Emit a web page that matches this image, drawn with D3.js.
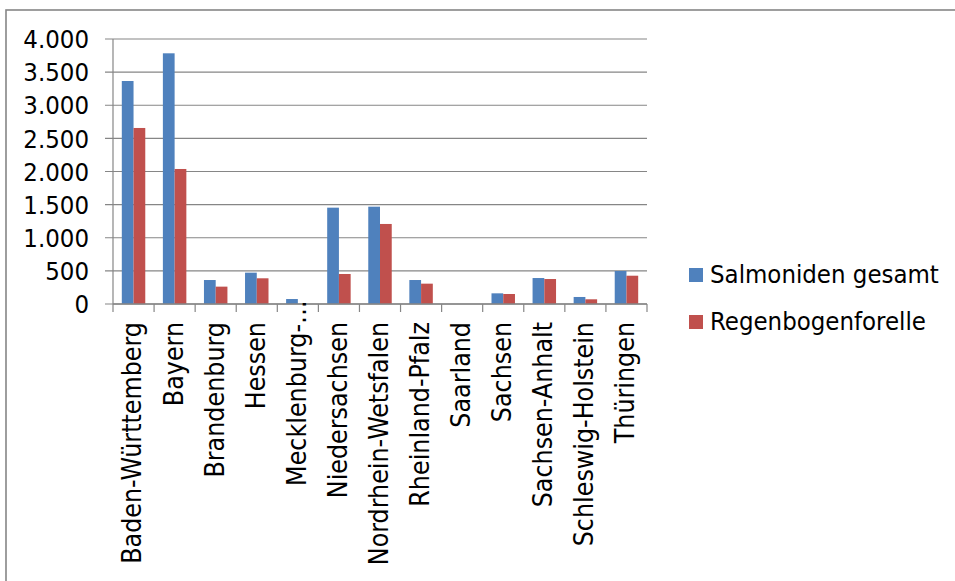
<!DOCTYPE html>
<html>
<head>
<meta charset="utf-8">
<script src="https://cdn.jsdelivr.net/npm/d3@7"></script>
<style>
  html, body { margin: 0; padding: 0; background: #fff; }
  svg text {
    font-family: "DejaVu Sans Condensed", "DejaVu Sans", sans-serif;
    font-stretch: condensed;
    fill: #000;
  }
</style>
</head>
<body>
<div id="chart"></div>
<script>
const states = [
  "Baden-Württemberg", "Bayern", "Brandenburg", "Hessen", "Mecklenburg-…",
  "Niedersachsen", "Nordrhein-Wetsfalen", "Rheinland-Pfalz", "Saarland",
  "Sachsen", "Sachsen-Anhalt", "Schleswig-Holstein", "Thüringen"
];
const seriesNames = ["Salmoniden gesamt", "Regenbogenforelle"];
const salmoniden = [3366, 3784, 362, 473, 75, 1454, 1469, 362, 0, 161, 392, 106, 498];
const regenbogen = [2657, 2038, 262, 388, 0, 453, 1208, 307, 0, 151, 377, 71, 427];
const yTicks = [0, 500, 1000, 1500, 2000, 2500, 3000, 3500, 4000];
const colors = ["#4F81BD", "#C0504D"];

const W = 955, H = 581;
const plot = { left: 113, right: 647, top: 39, bottom: 304 };
const gridColor = "#868686";
const fontSize = 25.5;
const xFontSize = 26.5;

const svg = d3.select("#chart").append("svg")
  .attr("width", W)
  .attr("height", H);

// chart area border (only top and left edges fall inside the picture)
svg.append("rect")
  .attr("x", 6)
  .attr("y", 10)
  .attr("width", W + 20)
  .attr("height", H + 20)
  .attr("fill", "none")
  .attr("stroke", gridColor)
  .attr("stroke-width", 1.6);

const x = d3.scaleBand()
  .domain(states)
  .range([plot.left, plot.right]);

// gap width 150% -> outer padding 0.75 of a bar on each side
const x1 = d3.scaleBand()
  .domain(seriesNames)
  .range([0, x.bandwidth()])
  .paddingOuter(0.75);

const y = d3.scaleLinear()
  .domain([0, 4000])
  .range([plot.bottom, plot.top]);

const de = d3.formatLocale({ decimal: ",", thousands: ".", grouping: [3], currency: ["", " €"] });
const fmt = de.format(",d");

// =========================
// GRID + Y AXIS
// =========================

svg.append("g")
  .selectAll("line")
  .data(yTicks)
  .join("line")
  .attr("x1", plot.left - 8)
  .attr("x2", plot.right)
  .attr("y1", d => y(d))
  .attr("y2", d => y(d))
  .attr("stroke", gridColor)
  .attr("stroke-width", 1.2);

svg.append("line")
  .attr("x1", plot.left)
  .attr("x2", plot.left)
  .attr("y1", y(4000))
  .attr("y2", y(0))
  .attr("stroke", gridColor)
  .attr("stroke-width", 1.2);

svg.append("g")
  .selectAll("text")
  .data(yTicks)
  .join("text")
  .attr("x", plot.left - 24)
  .attr("y", d => y(d))
  .attr("dy", "0.36em")
  .attr("text-anchor", "end")
  .style("font-size", fontSize + "px")
  .text(d => fmt(d));

// =========================
// BARS
// =========================

const rows = states.map((s, i) => ({ state: s, values: [salmoniden[i], regenbogen[i]] }));

const groups = svg.append("g")
  .selectAll("g")
  .data(rows)
  .join("g")
  .attr("transform", d => `translate(${x(d.state)},0)`);

groups.selectAll("rect")
  .data(d => d.values.map((v, k) => ({ key: seriesNames[k], value: v, k })))
  .join("rect")
  .attr("x", d => x1(d.key))
  .attr("width", x1.bandwidth())
  .attr("y", d => y(d.value))
  .attr("height", d => y(0) - y(d.value))
  .attr("fill", d => colors[d.k]);

// =========================
// X AXIS
// =========================

svg.append("line")
  .attr("x1", plot.left)
  .attr("x2", plot.right)
  .attr("y1", y(0))
  .attr("y2", y(0))
  .attr("stroke", gridColor)
  .attr("stroke-width", 1.4);

// Excel style ticks between the categories
const tickPos = d3.range(states.length + 1).map(i => plot.left + i * x.step());
svg.append("g")
  .selectAll("line")
  .data(tickPos)
  .join("line")
  .attr("x1", d => d)
  .attr("x2", d => d)
  .attr("y1", y(0))
  .attr("y2", y(0) + 8)
  .attr("stroke", gridColor)
  .attr("stroke-width", 1.2);

const labelTop = y(0) + 18;
const xLabels = svg.append("g")
  .selectAll("text")
  .data(states)
  .join("text")
  .attr("transform", d => `translate(${x(d) + x.bandwidth() / 2},${labelTop}) rotate(-90)`)
  .attr("dy", "0.3em")
  .attr("text-anchor", "end")
  .style("font-size", xFontSize + "px")
  .text(d => d);

// truncated label: the ellipsis overflows past the others
xLabels.filter(d => d.endsWith("…"))
  .attr("dx", function (d) {
    return this.getSubStringLength(d.length - 1, 1) - 2;
  });

// =========================
// LEGEND
// =========================

const legend = svg.append("g")
  .selectAll("g")
  .data(seriesNames)
  .join("g")
  .attr("transform", (d, i) => `translate(689,${268 + i * 47})`);

legend.append("rect")
  .attr("width", 14)
  .attr("height", 14)
  .attr("fill", (d, i) => colors[i]);

legend.append("text")
  .attr("x", 21)
  .attr("y", 15)
  .style("font-size", fontSize + "px")
  .text(d => d);
</script>
</body>
</html>
